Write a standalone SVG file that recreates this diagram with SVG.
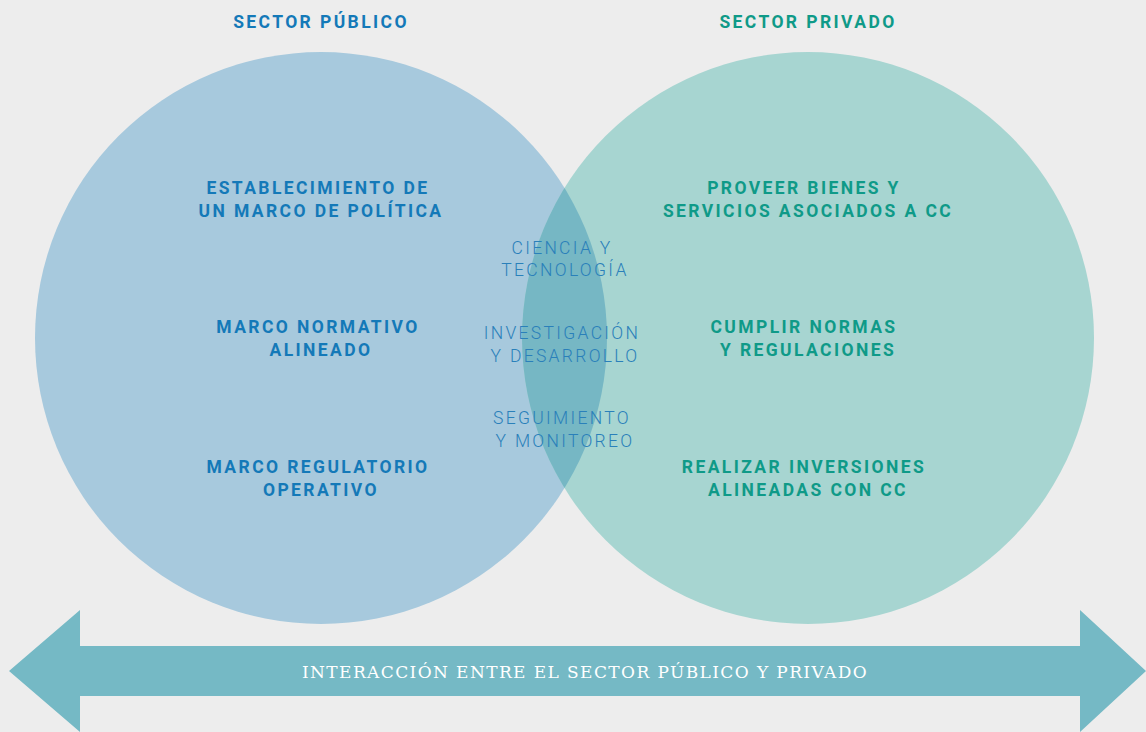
<svg xmlns="http://www.w3.org/2000/svg" width="1146" height="732" viewBox="0 0 1146 732">
<style>
.t{font-family:Roboto,"Liberation Sans",sans-serif;font-size:17.5px;font-weight:700;letter-spacing:2.4px;text-anchor:middle}
.b{fill:#1479b8}
.g{fill:#0f9a88}
.c{font-family:Roboto,"Liberation Sans",sans-serif;font-size:17.5px;font-weight:300;letter-spacing:2.3px;text-anchor:middle;fill:#2a80ba}
.a{font-family:"DejaVu Serif","Liberation Serif",serif;font-size:17px;font-weight:300;letter-spacing:1.4px;text-anchor:middle;fill:#ffffff}
</style>
<defs><clipPath id="cl"><circle cx="321" cy="338" r="286"/></clipPath></defs>
<rect width="1146" height="732" fill="#ededed"/>
<g id="publico">
<circle cx="321" cy="338" r="286" fill="#a7c9dd"/>
<text class="t b" x="321" y="28">SECTOR PÚBLICO</text>
<text class="t b" x="318" y="194">ESTABLECIMIENTO DE</text>
<text class="t b" x="321" y="217">UN MARCO DE POLÍTICA</text>
<text class="t b" x="318" y="333">MARCO NORMATIVO</text>
<text class="t b" x="321" y="356">ALINEADO</text>
<text class="t b" x="318" y="473">MARCO REGULATORIO</text>
<text class="t b" x="321" y="496">OPERATIVO</text>
</g>
<g id="privado">
<circle cx="808" cy="338" r="286" fill="#a7d5d1"/>
<text class="t g" x="808" y="28">SECTOR PRIVADO</text>
<text class="t g" x="804" y="194">PROVEER BIENES Y</text>
<text class="t g" x="808" y="217">SERVICIOS ASOCIADOS A CC</text>
<text class="t g" x="804" y="333">CUMPLIR NORMAS</text>
<text class="t g" x="808" y="356">Y REGULACIONES</text>
<text class="t g" x="804" y="473">REALIZAR INVERSIONES</text>
<text class="t g" x="808" y="496">ALINEADAS CON CC</text>
</g>
<g id="interseccion">
<circle cx="808" cy="338" r="286" fill="#76b7c4" clip-path="url(#cl)"/>
<text class="c" x="562" y="254">CIENCIA Y</text>
<text class="c" x="565" y="276">TECNOLOGÍA</text>
<text class="c" x="562" y="339">INVESTIGACIÓN</text>
<text class="c" x="565" y="362">Y DESARROLLO</text>
<text class="c" x="562" y="424">SEGUIMIENTO</text>
<text class="c" x="565" y="447">Y MONITOREO</text>
</g>
<g id="conectores">
<polygon points="9,671 80,610 80,646 1080,646 1080,610 1146,671 1080,732 1080,696 80,696 80,732" fill="#75b9c5"/>
<text class="a" x="585" y="678">INTERACCIÓN ENTRE EL SECTOR PÚBLICO Y PRIVADO</text>
</g>
</svg>
